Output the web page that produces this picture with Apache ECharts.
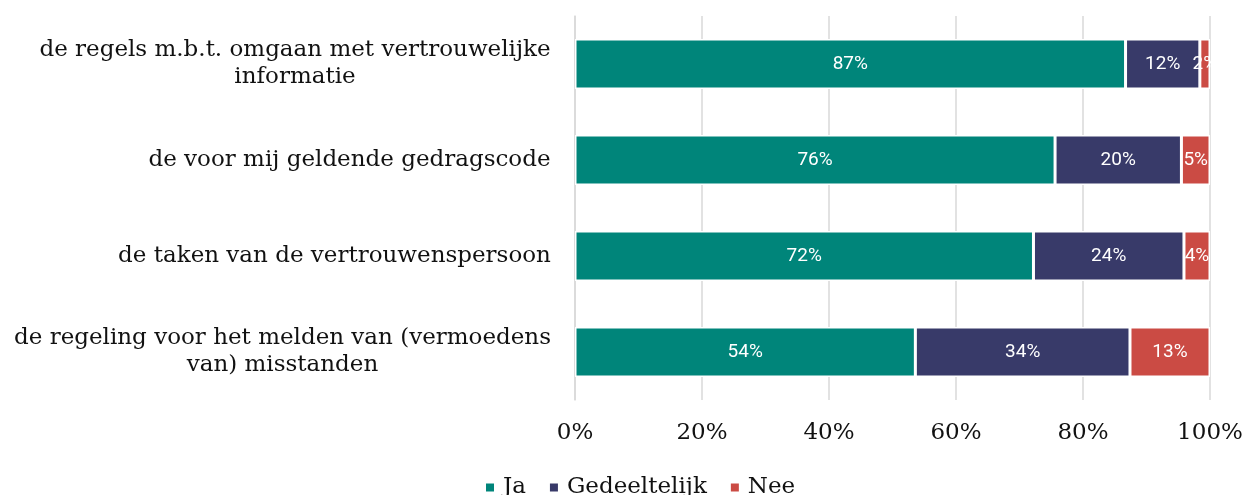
<!DOCTYPE html>
<html><head><meta charset="utf-8">
<script src="https://cdn.jsdelivr.net/npm/echarts@6/dist/echarts.min.js"></script>
<style>html,body{margin:0;padding:0;background:#fff}#c{width:1242px;height:495px}</style>
</head><body><div id="c"></div>
<script>
const categories = [
  "de regels m.b.t. omgaan met vertrouwelijke\ninformatie",
  "de voor mij geldende gedragscode",
  "de taken van de vertrouwenspersoon",
  "de regeling voor het melden van (vermoedens\nvan) misstanden"
];
const seriesNames = ["Ja", "Gedeeltelijk", "Nee"];
const ja = [86.7, 75.6, 72.2, 53.6];
const gedeeltelijk = [11.7, 19.9, 23.7, 33.8];
const nee = [1.6, 4.5, 4.1, 12.6];
const xTicks = [0, 20, 40, 60, 80, 100];

const colors = ["#00857a", "#383a69", "#cb4b44"];
const serif = "DejaVu Serif";
const catSize = 23;

// measure label widths so multi-line labels are centered within their block
const ctx = document.createElement('canvas').getContext('2d');
ctx.font = catSize + "px '" + serif + "'";
const rich = {};
categories.forEach((c, i) => {
  const w = Math.max(...c.split('\n').map(l => ctx.measureText(l).width));
  rich['w' + i] = { width: Math.ceil(w), align: 'center', fontFamily: serif, fontSize: catSize, lineHeight: 27, color: '#111' };
});

const values = [ja, gedeeltelijk, nee];
const chart = echarts.init(document.getElementById('c'), null, { renderer: 'canvas' });
chart.setOption({
  animation: false,
  color: colors,
  grid: { left: 575, right: 32, top: 16, bottom: 95, containLabel: false, outerBoundsMode: 'none' },
  legend: {
    bottom: -9, left: 479,
    itemWidth: 10, itemHeight: 10, itemGap: 22,
    icon: 'rect',
    textStyle: { fontFamily: serif, fontSize: 23, color: '#111', padding: [0, 0, 0, 3] },
    data: seriesNames
  },
  xAxis: {
    type: 'value', min: 0, max: 100, interval: 20,
    axisLine: { show: false }, axisTick: { show: false },
    splitLine: { lineStyle: { color: '#d9d9d9', width: 1.5 } },
    axisLabel: {
      margin: 22, fontFamily: serif, fontSize: 23, color: '#111',
      formatter: v => xTicks.includes(v) ? v + '%' : ''
    }
  },
  yAxis: {
    type: 'category', inverse: true, data: categories,
    axisLine: { show: true, lineStyle: { color: '#d9d9d9', width: 1.5 } },
    axisTick: { show: false },
    axisLabel: {
      margin: 24, align: 'right',
      formatter: (v, i) => v.split('\n').map(l => '{w' + i + '|' + l + '}').join('\n'),
      rich: rich
    }
  },
  series: seriesNames.map((n, k) => ({
    name: n, type: 'bar', stack: 'total', barWidth: '52%',
    data: values[k],
    itemStyle: { borderColor: '#fff', borderWidth: 1.5 },
    label: {
      show: true, position: 'inside', color: '#fff',
      fontFamily: 'Roboto', fontSize: 19,
      formatter: p => Math.round(p.value) + '%'
    }
  }))
});
</script></body></html>
